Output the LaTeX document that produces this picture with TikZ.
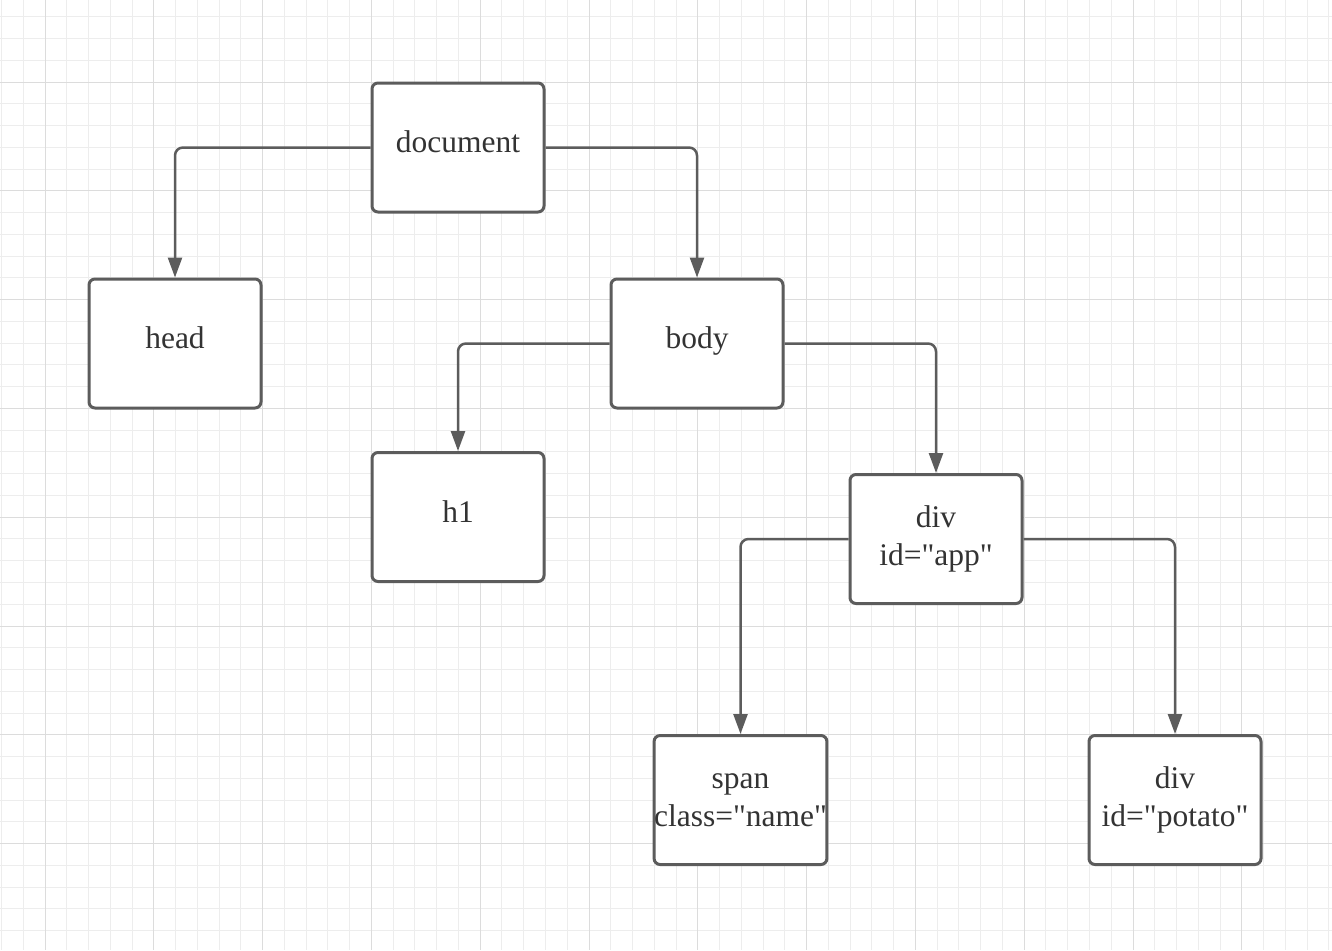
\documentclass[tikz,border=0pt]{standalone}
\usepackage{fontspec}
\setmainfont{Liberation Serif}[Ligatures=TeXOff]
\usetikzlibrary{arrows.meta}
\definecolor{gridminor}{HTML}{EDEDED}
\definecolor{gridmajor}{HTML}{DCDCDC}
\definecolor{edgecol}{HTML}{5C5C5C}
\definecolor{txtcol}{HTML}{333333}
\tikzset{
  boxnode/.style={draw=edgecol, line width=3bp, rounded corners=6bp, fill=white,
    minimum width=172bp, minimum height=129bp, text=txtcol,
    font=\fontsize{31.6pt}{38.1pt}\selectfont, align=center, inner sep=0pt},
  oneline/.style={text height=20bp, text depth=10bp},
  conn/.style={draw=edgecol, line width=2.5bp, rounded corners=8bp,
    -{Triangle[width=14bp,length=20bp]}},
  minorline/.style={draw=gridminor, line width=1bp},
  majorline/.style={draw=gridmajor, line width=1bp}
}
\begin{document}
\begin{tikzpicture}[x=1bp,y=-1bp]
\fill[white] (0,0) rectangle (1332,950);
\useasboundingbox (0,0) rectangle (1332,950);
\foreach \i in {0,...,61} \draw[minorline] ({1.48+21.76*\i},0) -- ({1.48+21.76*\i},950);
\foreach \i in {0,...,42} \draw[minorline] (0,{16.72+21.76*\i}) -- (1332,{16.72+21.76*\i});
\foreach \i in {0,...,11} \draw[majorline] ({45+108.8*\i},0) -- ({45+108.8*\i},950);
\foreach \i in {0,...,7} \draw[majorline] (0,{82+108.8*\i}) -- (1332,{82+108.8*\i});

\node[boxnode, oneline] (doc) at (458,147.5) {document};
\node[boxnode, oneline] (head) at (175,343.5) {head};
\node[boxnode, oneline] (body) at (697,343.5) {body};
\node[boxnode, oneline] (h1) at (458,517) {h1};
\node[boxnode] (app) at (936,539) {div\\id="app"};
\node[boxnode] (span) at (740.5,800) {span\\class="name"};
\node[boxnode] (potato) at (1175,800) {div\\id="potato"};

\draw[conn] (doc.west) -| (head.north);
\draw[conn] (doc.east) -| (body.north);
\draw[conn] (body.west) -| (h1.north);
\draw[conn] (body.east) -| (app.north);
\draw[conn] (app.west) -| (span.north);
\draw[conn] (app.east) -| (potato.north);
\end{tikzpicture}
\end{document}
